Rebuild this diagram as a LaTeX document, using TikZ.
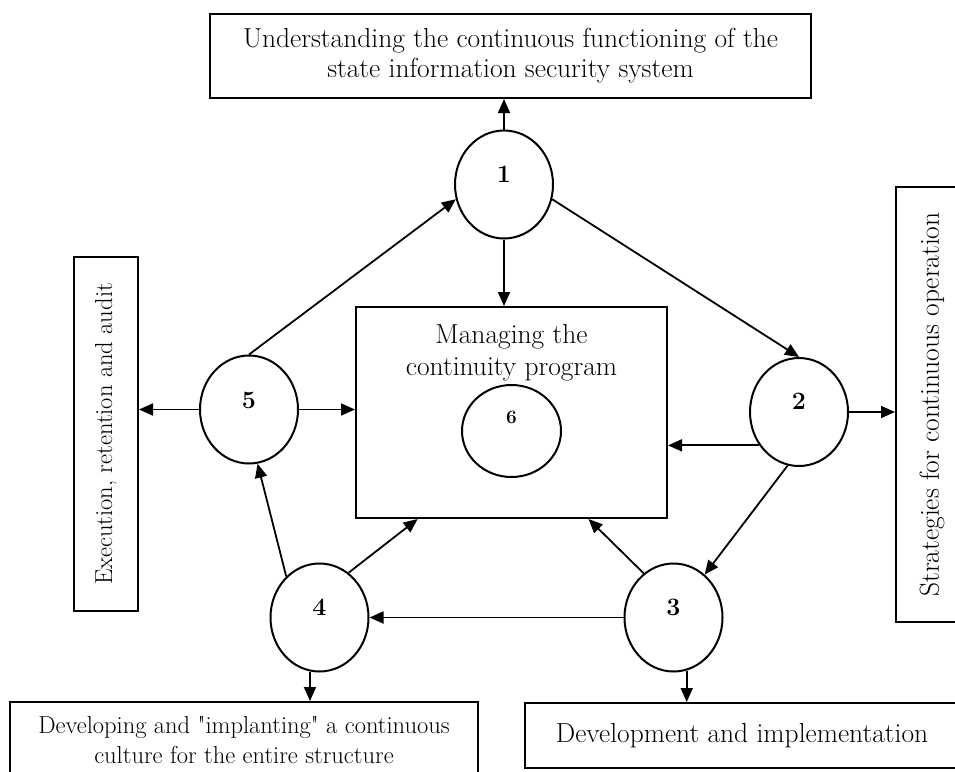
\documentclass[tikz,border=0pt]{standalone}
\usetikzlibrary{positioning,shapes.geometric,arrows.meta,calc}

% straight double quote, taken from the font without the TeX text mapping
\newcommand{\sdq}{{\font\lmq="[lmroman17-regular.otf]" at 24.5pt\lmq"}}

\begin{document}
\begin{tikzpicture}
  [x=1pt,y=-1pt,
   box/.style={rectangle,draw,line width=2pt,inner sep=0pt,align=center,font=\fontsize{27.5}{30}\selectfont},
   phase/.style={ellipse,draw,line width=2pt,inner sep=0pt,minimum width=98pt,minimum height=108pt},
   num/.style={inner sep=0pt,font=\fontsize{25}{25}\selectfont\bfseries},
   link/.style={-{Triangle[length=14pt,width=12pt]},line width=1.8pt}]
  \path [use as bounding box,fill=white] (0,0) rectangle (955,771);

  % outer boxes
  \node [box,minimum width=601pt,minimum height=84pt] (underst) at (510.5,56) {Understanding the continuous functioning of the\\state information security system};
  \node [box,rotate=90,minimum width=435pt,minimum height=72pt] (strat) at (932,404.5) {Strategies for continuous operation};
  \node [box,rotate=90,font=\fontsize{24.5}{30}\selectfont,minimum width=354pt,minimum height=64pt] (exec) at (106,434) {Execution, retention and audit};
  \node [box,minimum width=434pt,minimum height=65pt] (devel) at (742,735.5) {Development and implementation};
  \node [box,font=\fontsize{24.5}{30}\selectfont,minimum width=468pt,minimum height=76pt] (culture) at (244,740) {Developing and \sdq implanting\sdq{} a continuous\\culture for the entire structure};

  % central box
  \node [box,minimum width=311pt,minimum height=211pt,
    label={[anchor=north,yshift=-18pt,inner sep=0pt,align=center,font=\fontsize{27.5}{32}\selectfont]north:Managing the\\continuity program}] (manage) at (511.5,412.5) {};
  \node [phase,minimum width=99pt,minimum height=92pt,label={[num,font=\fontsize{19}{19}\selectfont\bfseries,yshift=14pt]center:6}] (c6) at (511.5,431) {};

  % phases
  \node [phase,label={[num,yshift=10pt]center:1}] (c1) at (504,184.5) {};
  \node [phase,label={[num,yshift=11pt]center:2}] (c2) at (799,412) {};
  \node [phase,label={[num,yshift=10pt]center:3}] (c3) at (673.5,617.5) {};
  \node [phase,label={[num,yshift=10pt]center:4}] (c4) at (319.5,617.5) {};
  \node [phase,label={[num,yshift=9pt]center:5}] (c5) at (249,409.5) {};

  \draw [link] (c1.north) -- (c1.north |- underst.south);
  \draw [link] (c1.south) -- (c1.south |- manage.north);
  \draw [link] (c1.-17) -- (c2.north);
  \draw [link] (c5.north) -- (c1.197);
  \draw [link] (c5.west) -- (c5.west -| exec.south);
  \draw [link] (c5.east) -- (c5.east -| manage.west);
  \draw [link] (c2.east) -- (c2.east -| strat.north);
  \draw [link] (c2.220) -- (c2.220 -| manage.east);
  \draw [link] (c2.258) -- (c3.54);
  \draw [link] (c3.west) -- (c4.east);
  \draw [link] (c3.124) -- ($(manage.south west)!0.746!(manage.south east)$);
  \draw [link] (c4.57) -- ($(manage.south west)!0.2!(manage.south east)$);
  \draw [link] (c4.129) -- (c5.279);
  \draw [link] (c4.260) -- (c4.260 |- culture.north);
  \draw [link] (c3.284) -- (c3.284 |- devel.north);
\end{tikzpicture}
\end{document}
